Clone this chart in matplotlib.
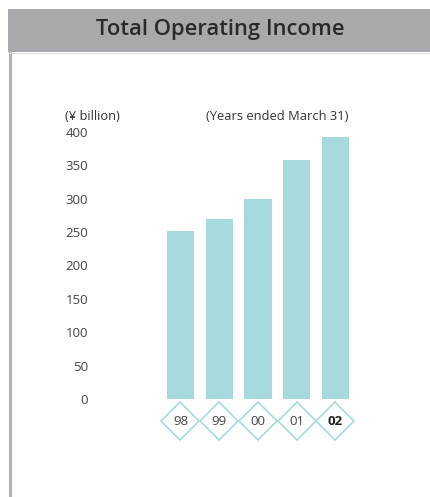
import matplotlib
matplotlib.use("Agg")
import matplotlib.pyplot as plt
from matplotlib.patches import Rectangle
from matplotlib.lines import Line2D

years = ["98", "99", "00", "01", "02"]
income = [252, 270, 300, 358, 393]
yticks = [0, 50, 100, 150, 200, 250, 300, 350, 400]

W, H = 431, 497
BAR = "#a6dadf"
TXT = "#444444"


def fx(px):
    return px / W


def fy(py):
    return (H - py) / H


def main():
    plt.rcParams["font.family"] = ["Open Sans", "DejaVu Sans"]
    fig = plt.figure(figsize=(W / 100, H / 100), dpi=100)

    # header band and left frame line
    fig.add_artist(Rectangle((fx(8), fy(52)), fx(W - 8), 43 / H,
                             transform=fig.transFigure, color="#a9a9ad", lw=0))
    fig.add_artist(Line2D([fx(10), fx(10)], [fy(52), 0], transform=fig.transFigure,
                          color="#b4b4b4", lw=2.2))
    fig.add_artist(Line2D([fx(10), 1], [fy(53), fy(53)], transform=fig.transFigure,
                          color="#dcdcdc", lw=0.8))
    fig.text(fx(220), fy(29), "Total Operating Income", ha="center", va="center",
             fontsize=15.8, fontweight="semibold", color="#2a2a2a")

    # axes: y 0..400 -> px 399..132
    left_px, right_px = 160, 360
    ax = fig.add_axes([fx(left_px), fy(399), (right_px - left_px) / W, (399 - 132) / H])
    step = 38.75
    ax.set_xlim((left_px - 180.5) / step, (right_px - 180.5) / step)
    ax.set_ylim(0, 400)
    xs = list(range(len(years)))
    ax.bar(xs, income, width=0.7, color=BAR, lw=0)

    for s in ax.spines.values():
        s.set_visible(False)
    ax.set_xticks([])
    ax.set_yticks(yticks)
    ax.set_yticklabels([str(v) for v in yticks])
    ax.tick_params(axis="y", length=0, pad=(left_px - 88) * 0.72, labelsize=9.5,
                   labelcolor=TXT)

    # diamonds with year labels
    ax.plot(xs, [-0.083] * len(xs), transform=ax.get_xaxis_transform(), marker="D",
            ms=19.3, mfc="white", mec=BAR, mew=1.2, ls="none", clip_on=False)
    for i, y in enumerate(years):
        ax.text(i, -0.083, y, transform=ax.get_xaxis_transform(), ha="center",
                va="center", fontsize=9.5, color="#222222" if i == 4 else TXT,
                fontweight="bold" if i == 4 else "normal")

    fig.text(fx(65), fy(117), "(\u00a5 billion)", ha="left", va="center",
             fontsize=9.3, color="#333333")
    fig.text(fx(349), fy(117), "(Years ended March 31)", ha="right", va="center",
             fontsize=9.3, color="#333333")

    fig.savefig("out.png", dpi=100, facecolor="white")


if __name__ == "__main__":
    main()
